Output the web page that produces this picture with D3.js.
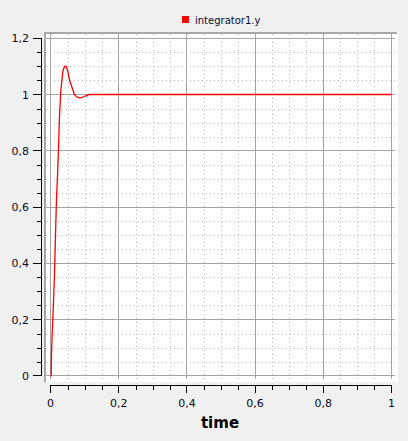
<!DOCTYPE html>
<html><head><meta charset="utf-8">
<script src="https://cdn.jsdelivr.net/npm/d3@7"></script>
<style>
html,body{margin:0;padding:0;background:#f0f0f0;}
svg{display:block;}
</style></head>
<body>
<script>
// Data
const seriesName = "integrator1.y";
const time = [0, 0.002, 0.003, 0.005, 0.009, 0.0117, 0.0147, 0.0176, 0.0205, 0.0235, 0.026, 0.030, 0.033, 0.036, 0.041, 0.046, 0.051, 0.056, 0.061, 0.066, 0.070, 0.077, 0.082, 0.092, 0.097, 0.105, 0.114, 1];
const values = [0, 0.0, 0.08, 0.15, 0.27, 0.36, 0.50, 0.63, 0.71, 0.81, 0.91, 1.01, 1.045, 1.08, 1.10, 1.10, 1.08, 1.05, 1.033, 1.015, 1.0, 0.991, 0.989, 0.989, 0.992, 0.996, 1.0, 1.0];
const xMajorTicks = [0, 0.2, 0.4, 0.6, 0.8, 1];
const xTickLabels = ["0", "0,2", "0,4", "0,6", "0,8", "1"];
const yMajorTicks = [0, 0.2, 0.4, 0.6, 0.8, 1, 1.2];
const yTickLabels = ["0", "0,2", "0,4", "0,6", "0,8", "1", "1,2"];
const xLabel = "time";

const W = 408, H = 441;
const svg = d3.select("body").append("svg").attr("width", W).attr("height", H);

const x = d3.scaleLinear().domain([0, 1]).range([50.5, 391.5]);
const y = d3.scaleLinear().domain([0, 1.2]).range([375.75, 38.25]);

const minorX = d3.range(0, 1.0001, 0.05).map(v => +v.toFixed(2)).filter(v => Math.round(v * 100) % 20 !== 0);
const minorY = d3.range(0, 1.2001, 0.05).map(v => +v.toFixed(2)).filter(v => Math.round(v * 100) % 20 !== 0);

// canvas
svg.append("rect").attr("x", 44).attr("y", 32).attr("width", 354).attr("height", 350).attr("fill", "#ffffff");
// sunken frame (left/top)
svg.append("rect").attr("x", 44).attr("y", 32).attr("width", 2).attr("height", 350).attr("fill", "#a8a8a8");
svg.append("rect").attr("x", 44).attr("y", 32).attr("width", 353).attr("height", 2).attr("fill", "#a8a8a8");

const gx0 = 46, gx1 = 395, gy0 = 34, gy1 = 379;
const grid = svg.append("g");
// minor dotted
grid.selectAll(".mx").data(minorX).enter().append("line")
  .attr("x1", d => Math.round(x(d)) + 0.5).attr("x2", d => Math.round(x(d)) + 0.5)
  .attr("y1", gy0).attr("y2", gy1)
  .attr("stroke", "#b4b4b4").attr("stroke-width", 1).attr("stroke-dasharray", "1,3");
grid.selectAll(".my").data(minorY).enter().append("line")
  .attr("y1", d => Math.round(y(d)) + 0.5).attr("y2", d => Math.round(y(d)) + 0.5)
  .attr("x1", gx0).attr("x2", gx1)
  .attr("stroke", "#b4b4b4").attr("stroke-width", 1).attr("stroke-dasharray", "1,3");
// major solid
grid.selectAll(".Mx").data(xMajorTicks).enter().append("line")
  .attr("x1", d => Math.floor(x(d)) + 0.5).attr("x2", d => Math.floor(x(d)) + 0.5)
  .attr("y1", gy0).attr("y2", gy1)
  .attr("stroke", "#a4a4a4").attr("stroke-width", 1);
grid.selectAll(".My").data(yMajorTicks).enter().append("line")
  .attr("y1", d => Math.floor(y(d)) + 0.5).attr("y2", d => Math.floor(y(d)) + 0.5)
  .attr("x1", gx0).attr("x2", gx1)
  .attr("stroke", "#a4a4a4").attr("stroke-width", 1);

// curve
const pts = time.map((t, i) => [t, values[i]]);
svg.append("path").datum(pts)
  .attr("d", d3.line().x(d => x(d[0])).y(d => y(d[1])))
  .attr("fill", "none").attr("stroke", "#ff0000").attr("stroke-width", 1.3);

// Y axis
const yAxisX = 41.5;
const ya = svg.append("g");
ya.append("line").attr("x1", yAxisX).attr("x2", yAxisX).attr("y1", Math.floor(y(1.2))).attr("y2", Math.floor(y(0)) + 1).attr("stroke", "#000").attr("stroke-width", 1);
ya.selectAll(".t").data(yMajorTicks).enter().append("line")
  .attr("x1", 33).attr("x2", 42).attr("y1", d => Math.floor(y(d)) + 0.5).attr("y2", d => Math.floor(y(d)) + 0.5)
  .attr("stroke", "#000");
ya.selectAll(".mt").data(minorY).enter().append("line")
  .attr("x1", 37).attr("x2", 42).attr("y1", d => Math.round(y(d)) + 0.5).attr("y2", d => Math.round(y(d)) + 0.5)
  .attr("stroke", "#000");
ya.selectAll(".l").data(yMajorTicks).enter().append("text")
  .attr("x", 29).attr("y", d => y(d) + 4)
  .attr("text-anchor", "end")
  .attr("font-family", "DejaVu Sans, sans-serif").attr("font-size", 11).attr("fill", "#0a0a20")
  .text((d, i) => yTickLabels[i]);

// X axis
const xAxisY = 385.5;
const xa = svg.append("g");
xa.append("line").attr("x1", Math.floor(x(0))).attr("x2", Math.floor(x(1)) + 1).attr("y1", xAxisY).attr("y2", xAxisY).attr("stroke", "#000");
xa.selectAll(".t").data(xMajorTicks).enter().append("line")
  .attr("x1", d => Math.floor(x(d)) + 0.5).attr("x2", d => Math.floor(x(d)) + 0.5).attr("y1", 385).attr("y2", 393)
  .attr("stroke", "#000");
xa.selectAll(".mt").data(minorX).enter().append("line")
  .attr("x1", d => Math.round(x(d)) + 0.5).attr("x2", d => Math.round(x(d)) + 0.5).attr("y1", 385).attr("y2", 390)
  .attr("stroke", "#000");
xa.selectAll(".l").data(xMajorTicks).enter().append("text")
  .attr("x", d => x(d)).attr("y", 407)
  .attr("text-anchor", "middle")
  .attr("font-family", "DejaVu Sans, sans-serif").attr("font-size", 11).attr("fill", "#0a0a20")
  .text((d, i) => xTickLabels[i]);

svg.append("text").attr("x", 220).attr("y", 428).attr("text-anchor", "middle")
  .attr("font-family", "DejaVu Sans, sans-serif").attr("font-weight", "bold").attr("font-size", 15)
  .attr("fill", "#000").text(xLabel);

// Legend
const lg = svg.append("g");
lg.append("rect").attr("x", 182).attr("y", 16).attr("width", 7).attr("height", 7).attr("fill", "#ff0000");
lg.append("text").attr("x", 195).attr("y", 24)
  .attr("font-family", "DejaVu Sans, sans-serif").attr("font-size", 10).attr("fill", "#0a0a30")
  .text(seriesName);
</script>
</body></html>
